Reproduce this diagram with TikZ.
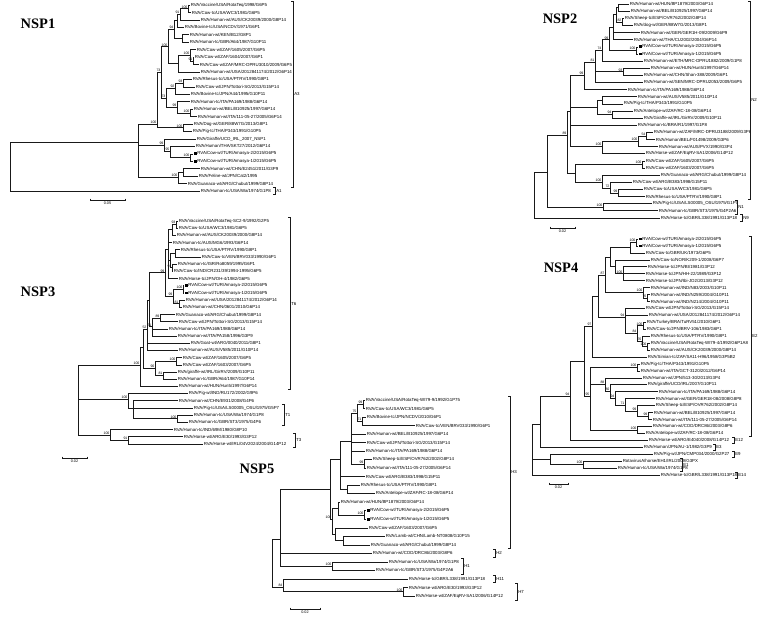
\documentclass[tikz,border=0pt]{standalone}
\usepackage{fontspec}
\setmainfont{Liberation Sans}
\newfontfamily\ttlfont{Liberation Serif}
\usetikzlibrary{calc}
\tikzset{
 edge/.style={draw=black!90, line width=0.55bp},
 lab/.style={anchor=west, inner sep=0.6bp, font=\fontsize{4.4}{5}\selectfont, text=black},
 bs/.style={anchor=south east, inner sep=0.4bp, font=\fontsize{3.5}{4}\selectfont, text=black},
 glab/.style={anchor=west, inner sep=0.3bp, font=\fontsize{4.4}{5}\selectfont},
 sclab/.style={anchor=north, inner sep=0.3bp, font=\fontsize{3.8}{4}\selectfont},
 ttl/.style={font=\ttlfont\bfseries\fontsize{14.5}{16}\selectfont, inner sep=0},
 sq/.style={fill=black, minimum size=2.6bp, inner sep=0, draw=none},
}
\def\rb{0}\def\rs{1}
\newcommand\lf[4]{\coordinate (#1) at (#2,{\rb+\rs*(#3-1)}); \node[lab] (#1-t) at (#1) {#4};}
\newcommand\mlf[4]{\coordinate (#1) at (#2,{\rb+\rs*(#3-1)}); \node[sq] (#1-s) at ($(#1)+(2.2,0)$) {}; \node[lab] (#1-t) at ($(#1)+(3.6,0)$) {#4};}
\newcommand\nd[4]{\coordinate (#1) at (#2,{\rb+\rs*(#3-1)}); \ifx\relax#4\relax\else\node[bs] (#1-b) at (#1) {#4};\fi}
\newcommand\br[2]{\foreach \cc in {#2}{\draw[edge] (#1) |- (\cc);}}
\newcommand\bk[5]{%
 \coordinate (#1t) at (#2,{\rb+\rs*(#3-1.45)});
 \coordinate (#1b) at (#2,{\rb+\rs*(#4-0.55)});
 \draw[edge] ($(#1t)+(-1.8,0)$) -- (#1t) -- (#1b) -- ($(#1b)+(-1.8,0)$);
 \node[glab] (#1) at ($(#1t)!0.5!(#1b)+(0.8,0)$) {#5};}
\newcommand\sbar[5]{\draw[edge] (#2,#4-1.3) -- (#2,#4+1.3) (#2,#4) -- (#3,#4) (#3,#4-1.3) -- (#3,#4+1.3);
 \node[sclab] (#1) at ({(#2+#3)/2},#4+1.6) {#5};}
\begin{document}
\begin{tikzpicture}[x=1bp,y=-1bp]
\fill[white] (0,0) rectangle (760,617);
\useasboundingbox (0,0) rectangle (760,617);
% ================= NSP1
\node[ttl] (t1) at (38,24) {NSP1};
\def\rb{5}\def\rs{7.44}
\lf{a1}{190}{1}{RVA/Vaccine/USA/RotaTeq/1998/G6P5}
\lf{a2}{191}{2}{RVA/Cow-tc/USA/WC3/1981/G6P5}
\lf{a3}{200}{3}{RVA/Human-wt/AUS/CK20039/2000/G8P14}
\lf{a4}{184}{4}{RVA/Bovine-tc/USA/NCDV/1971/G6P1}
\lf{a5}{189}{5}{RVA/Human-wt/KEN/B12/G8P1}
\lf{a6}{189}{6}{RVA/Human-tc/GBR/A64/1987/G10P11}
\lf{a7}{196}{7}{RVA/Cow-wt/ZAF/1605/2007/G6P5}
\lf{a8}{194}{8}{RVA/Cow-wt/ZAF/1604/2007/G6P1}
\lf{a9}{199}{9}{RVA/Cow-wt/ZAF/MRC-DPRU3010/2009/G6P5}
\lf{a10}{200}{10}{RVA/Human-wt/USA/2012841174/2012/G6P14}
\lf{a11}{192}{11}{RVA/Rhesus-tc/USA/PTRV/1990/G8P1}
\lf{a12}{195}{12}{RVA/Cow-wt/JPN/Tottori-SG/2013/G15P14}
\lf{a13}{190}{13}{RVA/Bovine-tc/JPN/A44/1995/G10P11}
\lf{a14}{190}{14}{RVA/Human-tc/ITA/PA169/1988/G6P14}
\lf{a15}{193}{15}{RVA/Human-wt/BEL/B10925/1997/G6P14}
\lf{a16}{197}{16}{RVA/Human-wt/ITA/111-05-27/2005/G6P14}
\lf{a17}{193}{17}{RVA/Dog-wt/GER/88W7G/2013/G8P1}
\lf{a18}{192}{18}{RVA/Pig-tc/THA/P343/1991/G10P5}
\lf{a19}{196}{19}{RVA/Giraffe/UCD\_IRL\_2007\_NSP1}
\lf{a20}{195}{20}{RVA/Human/THA/SKT27/2012/G6P14}
\mlf{a21}{193}{21}{RVA/Cow-wt/TUR/Amasya-2/2015/G6P5}
\mlf{a22}{193}{22}{RVA/Cow-wt/TUR/Amasya-1/2015/G6P5}
\lf{a23}{200}{23}{RVA/Human-wt/CHN/E2451/2011/G3P9}
\lf{a24}{198}{24}{RVA/Feline-wt/JPN/Cat2/1995}
\lf{a25}{187}{25}{RVA/Guanaco-wt/ARG/Chubut/1999/G8P14}
\lf{a26}{200}{26}{RVA/Human-tc/USA/Wa/1974/G1P8}
\nd{aU1}{188}{1.5}{100} \br{aU1}{a1,a2}
\nd{aU2}{180}{2.2}{91} \br{aU2}{aU1,a3}
\nd{aU3}{177}{3.0}{} \br{aU3}{aU2,a4}
\nd{aU4}{182}{5.5}{} \br{aU4}{a5,a6}
\nd{aU5}{174}{4.3}{94} \br{aU5}{aU3,aU4}
\nd{aU6}{193}{8.5}{91} \br{aU6}{a8,a9}
\nd{aU7}{190}{7.8}{100} \br{aU7}{a7,aU6}
\nd{aU8}{178}{8.8}{} \br{aU8}{aU7,a10}
\nd{aU9}{168}{6.6}{100} \br{aU9}{aU5,aU8}
\nd{aV1}{183}{11.5}{93} \br{aV1}{a11,a12}
\nd{aV2}{175}{12.2}{92} \br{aV2}{aV1,a13}
\nd{aV3}{190}{15.5}{100} \br{aV3}{a15,a16}
\nd{aV4}{177}{14.7}{99} \br{aV4}{a14,aV3}
\nd{aV5}{166}{13.5}{73} \br{aV5}{aV2,aV4}
\nd{aW}{161}{10}{73} \br{aW}{aU9,aV5}
\nd{aC}{183}{17.5}{100} \br{aC}{a17,a18}
\nd{aP}{157}{17}{100} \br{aP}{aW,aC}
\nd{aP2c}{190}{21.5}{100} \br{aP2c}{a21,a22}
\nd{aP2b}{170}{20.7}{95} \br{aP2b}{a20,aP2c}
\nd{aP2a}{164}{19.8}{99} \br{aP2a}{a19,aP2b}
\nd{aQ1}{183}{23.5}{} \br{aQ1}{a23,a24}
\nd{aQ}{178}{24.2}{100} \br{aQ}{aQ1,a25}
\nd{aM}{138}{19.4}{} \br{aM}{aP,aP2a,aQ}
\nd{aR}{10}{22.5}{} \br{aR}{aM,a26}
\bk{aA3}{293}{1}{25}{A3}
\bk{aA1}{275}{26}{26}{A1}
\sbar{as}{90}{125}{200}{0.05}
% ================= NSP2
\node[ttl] (t2) at (560,19) {NSP2};
\def\rb{4}\def\rs{7.13}
\lf{b1}{629}{1}{RVA/Human-wt/HUN/BP1879/2003/G6P14}
\lf{b2}{630}{2}{RVA/Human-wt/BEL/B10925/1997/G6P14}
\lf{b3}{624}{3}{RVA/Sheep-tc/ESP/OVR762/2002/G8P14}
\lf{b4}{633}{4}{RVA/dog-wt/GER/88W7G/2013/G8P1}
\lf{b5}{640}{5}{RVA/Human-wt/GER/GER1H-09/2009/G6P9}
\lf{b6}{633}{6}{RVA/Human-wt/THA/CU2002/2004/G6P14}
\mlf{b7}{638}{7}{RVA/Cow-wt/TUR/Amasya-2/2015/G6P5}
\mlf{b8}{638}{8}{RVA/Cow-wt/TUR/Amasya-1/2015/G6P5}
\lf{b9}{643}{9}{RVA/Human-wt/ETH/MRC-DPRU1882/2009/G1P8}
\lf{b10}{650}{10}{RVA/Human-wt/HUN/Hun5/1997/G6P14}
\lf{b11}{643}{11}{RVA/Human-wt/CHN/Shan-388/2009/G6P1}
\lf{b12}{643}{12}{RVA/Human-wt/SEN/MRC-DPRU2053/2009/G6P5}
\lf{b13}{627}{13}{RVA/Human-tc/ITA/PA169/1988/G6P14}
\lf{b14}{637}{14}{RVA/Human-wt/AUS/V585/2011/G10P14}
\lf{b15}{623}{15}{RVA/Pig-tc/THA/P343/1991/G10P5}
\lf{b16}{633}{16}{RVA/Antelope-wt/ZAF/RC-18-08/G6P14}
\lf{b17}{643}{17}{RVA/Giraffe-wt/IRL/GirRV/2009/G10P11}
\lf{b18}{637}{18}{RVA/Human-tc/BRA/R1/1997/G1P8}
\lf{b19}{653}{19}{RVA/Human-wt/ZAF/MRC-DPRU3188/2009/G3P6}
\lf{b20}{655}{20}{RVA/Human/BEL/F01498/2009/G3P6}
\lf{b21}{658}{21}{RVA/Human-wt/AUS/PVX/1990/G3P4}
\lf{b22}{645}{22}{RVA/Horse-wt/ZAF/EqRV-SA1/2006/G14P12}
\lf{b23}{645}{23}{RVA/Cow-wt/ZAF/1605/2007/G6P5}
\lf{b24}{645}{24}{RVA/Cow-wt/ZAF/1603/2007/G6P5}
\lf{b25}{660}{25}{RVA/Guanaco-wt/ARG/Chubut/1999/G8P14}
\lf{b26}{632}{26}{RVA/Cow-wt/ARG/B383/1998/G15P11}
\lf{b27}{643}{27}{RVA/Cow-tc/USA/WC3/1981/G6P5}
\lf{b28}{645}{28}{RVA/Rhesus-tc/USA/PTRV/1990/G8P1}
\lf{b29}{652}{29}{RVA/Pig-tc/USA/LS00005\_OSU/1975/G1P7}
\lf{b30}{658}{30}{RVA/Human-tc/GBR/ST3/1975/G4P2A6}
\lf{b31}{660}{31}{RVA/Horse-tc/GBR/L338/1991/G13P18}
\nd{bc12}{618}{1.5}{} \br{bc12}{b1,b2}
\nd{bc34}{622}{3.5}{82} \br{bc34}{b3,b4}
\nd{bc14}{616}{2.5}{} \br{bc14}{bc12,bc34}
\nd{bc56}{613}{4.3}{} \br{bc56}{bc14,b5,b6}
\nd{bcAm}{636}{7.5}{100} \br{bcAm}{b7,b8}
\nd{bcAm2}{609}{6.0}{99} \br{bcAm2}{bc56,bcAm}
\nd{bc9}{602}{7.5}{74} \br{bc9}{bcAm2,b9}
\nd{bc1011}{623}{10.5}{93} \br{bc1011}{b10,b11}
\nd{bc81}{595}{9.2}{81} \br{bc81}{bc9,bc1011,b12}
\nd{bT1}{584}{11}{99} \br{bT1}{bc81,b13}
\nd{bc1415}{602}{14.5}{} \br{bc1415}{b14,b15}
\nd{bc1617}{612}{16.5}{94} \br{bc1617}{b16,b17}
\nd{bc1417}{597}{15.5}{} \br{bc1417}{bc1415,bc1617}
\nd{bG1}{646}{19.5}{54} \br{bG1}{b19,b20}
\nd{bG2}{638}{20.2}{100} \br{bG2}{bG1,b21}
\nd{bG3}{602}{21}{100} \br{bG3}{bG2,b22}
\nd{bUp}{570}{16}{} \br{bUp}{bT1,bc1417,b18,bG3}
\nd{bc2324}{642}{23.5}{100} \br{bc2324}{b23,b24}
\nd{bc2728}{618}{27.5}{99} \br{bc2728}{b27,b28}
\nd{bc2628}{610}{26.8}{72} \br{bc2628}{b26,bc2728}
\nd{bc2528}{602}{26}{100} \br{bc2528}{b25,bc2628}
\nd{bLow}{575}{24.8}{} \br{bLow}{bc2324,bc2528}
\nd{bB}{567}{19.4}{89} \br{bB}{bUp,bLow}
\nd{bN1}{603}{29.5}{100} \br{bN1}{b29,b30}
\nd{bA}{547}{24.6}{} \br{bA}{bB,bN1}
\nd{bR}{534}{28}{} \br{bR}{bA,b31}
\bk{bN2b}{750}{1}{28}{N2}
\bk{bN1b}{737}{29}{30}{N1}
\bk{bN9b}{742}{31}{31}{N9}
\sbar{bs}{550}{575}{228}{0.02}
% ================= NSP3
\node[ttl] (t3) at (38,292) {NSP3};
\def\rb{221}\def\rs{7.19}
\lf{c1}{178}{1}{RVA/Vaccine/USA/RotaTeq-SC2-9/1992/G2P5}
\lf{c2}{178}{2}{RVA/Cow-tc/USA/WC3/1981/G6P5}
\lf{c3}{176}{3}{RVA/Human-wt/AUS/CK20039/2000/G8P14}
\lf{c4}{172}{4}{RVA/Human-tc/AUS/MG6/1993/G6P14}
\lf{c5}{180}{5}{RVA/Rhesus-tc/USA/PTRV/1990/G8P1}
\lf{c6}{201}{6}{RVA/Cow-tc/VEN/BRV033/1990/G6P1}
\lf{c7}{177}{7}{RVA/Human-tc/ISR/Ro8059/1995/G6P1}
\lf{c8}{173}{8}{RVA/Cow-tc/IND/CR231/39/1994-1995/G6P5}
\lf{c9}{178}{9}{RVA/Horse-tc/JPN/OH-4/1982/G6P5}
\mlf{c10}{184}{10}{RVA/Cow-wt/TUR/Amasya-2/2015/G6P5}
\mlf{c11}{184}{11}{RVA/Cow-wt/TUR/Amasya-1/2015/G6P5}
\lf{c12}{185}{12}{RVA/Human-wt/USA/2012841174/2012/G6P14}
\lf{c13}{182}{13}{RVA/Human-wt/CHN/0601/2010/G6P14}
\lf{c14}{175}{14}{RVA/Guanaco-wt/ARG/Chubut/1999/G8P14}
\lf{c15}{178}{15}{RVA/Cow-wt/JPN/Tottori-SG/2013/G15P14}
\lf{c16}{168}{16}{RVA/Human-tc/ITA/PA169/1988/G6P14}
\lf{c17}{177}{17}{RVA/Human-wt/ITA/PA158/1996/G3P9}
\lf{c18}{190}{18}{RVA/Goat-wt/ARG/0040/2011/G8P1}
\lf{c19}{178}{19}{RVA/Human-wt/AUS/V585/2011/G10P14}
\lf{c20}{182}{20}{RVA/Cow-wt/ZAF/1605/2007/G6P5}
\lf{c21}{182}{21}{RVA/Cow-wt/ZAF/1603/2007/G6P5}
\lf{c22}{177}{22}{RVA/giraffe-wt/IRL/GirRV/2009/G10P11}
\lf{c23}{177}{23}{RVA/Human-tc/GBR/A64/1987/G10P14}
\lf{c24}{178}{24}{RVA/Human-wt/HUN/Hun5/1997/G6P14}
\lf{c25}{188}{25}{RVA/Pig-wt/IND/RU172/2002/G9P6}
\lf{c26}{178}{26}{RVA/Human-wt/CHN/E931/2008/G4P6}
\lf{c27}{193}{27}{RVA/Pig-tc/USA/LS00005\_OSU/1975/G5P7}
\lf{c28}{193}{28}{RVA/Human-tc/USA/Wa/1974/G1P8}
\lf{c29}{188}{29}{RVA/Human-tc/GBR/ST3/1975/G4P6}
\lf{c30}{173}{30}{RVA/Human-tc/IND/69M/1980/G8P10}
\lf{c31}{183}{31}{RVA/Horse-wt/ARG/E30/1993/G3P12}
\lf{c32}{203}{32}{RVA/Horse-wt/IRL/04V2024/2004/G14P12}
\nd{cn12}{176}{1.5}{93} \br{cn12}{c1,c2}
\nd{cna}{172}{2.2}{} \br{cna}{cn12,c3}
\nd{cnb}{175}{5.5}{} \br{cnb}{c5,c6}
\nd{cn78}{172}{7.5}{91} \br{cn78}{c7,c8}
\nd{cnc}{170}{6.5}{} \br{cnc}{cnb,cn78}
\nd{cnd}{168}{5}{} \br{cnd}{cna,c4,cnc,c9}
\nd{cn1011}{183}{10.5}{100} \br{cn1011}{c10,c11}
\nd{cn1213}{179}{12.5}{81} \br{cn1213}{c12,c13}
\nd{cne}{173}{11.5}{99} \br{cne}{cn1011,cn1213}
\nd{cnf}{165}{8.2}{99} \br{cnf}{cnd,cne}
\nd{cn1415}{160}{14.5}{89} \br{cn1415}{c14,c15}
\nd{cng}{152}{15.7}{71} \br{cng}{cn1415,c16,c17}
\nd{cnh}{149}{12}{} \br{cnh}{cnf,cng}
\nd{cni}{147}{16}{52} \br{cni}{cnh,c18,c19}
\nd{cnZ}{176}{20.5}{100} \br{cnZ}{c20,c21}
\nd{cnG}{163}{22.5}{81} \br{cnG}{c22,c23}
\nd{cnj}{155}{21.5}{90} \br{cnj}{cnZ,cnG}
\nd{cnk}{143}{18.5}{} \br{cnk}{cni,cnj}
\nd{cT6}{140}{21}{100} \br{cT6}{cnk,c24}
\nd{cnW}{177}{28.5}{100} \br{cnW}{c28,c29}
\nd{cnT1}{133}{27}{} \br{cnT1}{c26,c27,cnW}
\nd{cnT}{128}{25.8}{100} \br{cnT}{c25,cnT1}
\nd{cnH}{128}{31.5}{91} \br{cnH}{c31,c32}
\nd{cnO}{110}{30.8}{100} \br{cnO}{c30,cnH}
\nd{cR}{78}{26}{} \br{cR}{cT6,cnT,cnO}
\bk{cT6b}{290}{1}{24}{T6}
\bk{cT1b}{284}{27}{29}{T1}
\bk{cT3b}{295}{31}{32}{T3}
\sbar{cs}{62}{87}{458}{0.02}
% ================= NSP4
\node[ttl] (t4) at (561,268) {NSP4};
\def\rb{239}\def\rs{6.94}
\mlf{d1}{638}{1}{RVA/Cow-wt/TUR/Amasya-2/2015/G6P5}
\mlf{d2}{638}{2}{RVA/Cow-wt/TUR/Amasya-1/2015/G6P5}
\lf{d3}{645}{3}{RVA/Cow-tc/GBR/UK/1973/G6P5}
\lf{d4}{650}{4}{RVA/Cow-tc/NOR/K209-1/2008/G6P7}
\lf{d5}{647}{5}{RVA/Horse-tc/JPN/BI/1981/G3P12}
\lf{d6}{645}{6}{RVA/Horse-tc/JPN/HH-22/1989/G3P12}
\lf{d7}{645}{7}{RVA/Horse-tc/JPN/Ibi-JO2/2013/G3P12}
\lf{d8}{650}{8}{RVA/Human-wt/IND/N83/2003/G10P11}
\lf{d9}{650}{9}{RVA/Human-wt/IND/N259/2004/G10P11}
\lf{d10}{650}{10}{RVA/Human-wt/IND/N214/2004/G10P11}
\lf{d11}{645}{11}{RVA/Cow-wt/JPN/Tottori-SG/2013/G15P14}
\lf{d12}{648}{12}{RVA/Human-wt/USA/2012841174/2012/G6P14}
\lf{d13}{646}{13}{RVA/Turkey/BRA/TuRV51/2010/G6P1}
\lf{d14}{646}{14}{RVA/Cow-tc/JPN/BRV-106/1983/G6P1}
\lf{d15}{650}{15}{RVA/Rhesus-tc/USA/PTRV/1990/G8P1}
\lf{d16}{650}{16}{RVA/Vaccine/USA/RotaTeq-WI79-4/1992/G6P1A8}
\lf{d17}{650}{17}{RVA/Human-wt/AUS/CK20039/2000/G8P14}
\lf{d18}{647}{18}{RVA/Simian-tc/ZAF/SA11-H96/1958/G3P5B2}
\lf{d19}{640}{19}{RVA/Pig-tc/THA/P343/1991/G10P5}
\lf{d20}{640}{20}{RVA/Human-wt/ITA/GCT-3120/2012/G6P14}
\lf{d21}{642}{21}{RVA/Human-wt/JPN/513-30/2013/G3P4}
\lf{d22}{647}{22}{RVA/giraffe/UCD/IRL/2007/G10P11}
\lf{d23}{658}{23}{RVA/Human-tc/ITA/PA169/1988/G6P14}
\lf{d24}{655}{24}{RVA/Human-wt/GER/GER18-08/2008/G8P8}
\lf{d25}{655}{25}{RVA/Sheep-tc/ESP/OVR762/2002/G8P14}
\lf{d26}{653}{26}{RVA/Human-wt/BEL/B10925/1997/G6P14}
\lf{d27}{652}{27}{RVA/Human-wt/ITA/111-05-27/2005/G6P14}
\lf{d28}{652}{28}{RVA/Human-wt/COD/DRC86/2003/G8P6}
\lf{d29}{645}{29}{RVA/Antelope-wt/ZAF/RC-18-08/G6P14}
\lf{d30}{648}{30}{RVA/Horse-wt/ARG/E4040/2008/G14P12}
\lf{d31}{643}{31}{RVA/Human/JPN/AU-1/1982/G3P9}
\lf{d32}{653}{32}{RVA/Pig-wt/JPN/CMP034/2000/G2P27}
\lf{d33}{622}{33}{RotavirusA/horse/EH1/IRL/2009/G3PX}
\lf{d34}{617}{34}{RVA/Human-tc/USA/Wa/1974/G1P8}
\lf{d35}{660}{35}{RVA/Horse-tc/GBR/L338/1991/G13P18}
\nd{da1}{636}{1.5}{100} \br{da1}{d1,d2}
\nd{da2}{630}{2.2}{} \br{da2}{da1,d3}
\nd{da3}{623}{6}{100} \br{da3}{d5,d6,d7}
\nd{da4}{615}{5}{} \br{da4}{d4,da3}
\nd{da5}{610}{3.6}{} \br{da5}{da2,da4}
\nd{db1}{647}{9.5}{76} \br{db1}{d9,d10}
\nd{db2}{643}{8.7}{100} \br{db2}{d8,db1}
\nd{db3}{605}{6.2}{87} \br{db3}{da5,db2}
\nd{dc1}{643}{13.5}{100} \br{dc1}{d13,d14}
\nd{dc2}{647}{16.5}{100} \br{dc2}{d16,d17}
\nd{dc3}{642}{15.7}{76} \br{dc3}{d15,dc2}
\nd{dc4}{637}{14.6}{84} \br{dc4}{dc1,dc3}
\nd{dc5}{625}{12.3}{94} \br{dc5}{d11,d12,dc4}
\nd{dc6}{598}{9.2}{} \br{dc6}{db3,dc5}
\nd{dc7}{592}{13.6}{97} \br{dc7}{dc6,d18}
\nd{dd1}{637}{19.5}{100} \br{dd1}{d19,d20}
\nd{dd2}{648}{26.5}{99} \br{dd2}{d26,d27}
\nd{dd3}{637}{25.8}{99} \br{dd3}{d25,dd2}
\nd{dd4}{625}{24.9}{71} \br{dd4}{d24,dd3}
\nd{dd5}{615}{23.9}{94} \br{dd5}{d23,dd4}
\nd{dd6}{610}{22.9}{80} \br{dd6}{d22,dd5}
\nd{dd7}{605}{21.9}{88} \br{dd7}{d21,dd6}
\nd{dd8}{637}{28.5}{100} \br{dd8}{d28,d29}
\nd{dd9}{590}{23.6}{95} \br{dd9}{dd1,dd7,dd8}
\nd{dE2}{584}{18.6}{} \br{dE2}{dc7,dd9}
\nd{dF}{570}{23.6}{94} \br{dF}{dE2,d30}
\nd{dE1}{583}{33.5}{100} \br{dE1}{d33,d34}
\nd{dH}{550}{32.7}{} \br{dH}{d32,dE1}
\nd{dG}{540}{27.7}{} \br{dG}{dF,d31}
\nd{dR}{532}{31.8}{} \br{dR}{dG,dH,d35}
\bk{dE2b}{751}{1}{29}{E2}
\bk{dE12}{734}{30}{30}{E12}
\bk{dE3}{715}{31}{31}{E3}
\bk{dE9}{734}{32}{32}{E9}
\bk{dE1b}{682}{33}{34}{E1}
\bk{dE14}{737}{35}{35}{E14}
\sbar{ds}{549}{568}{484}{0.02}
% ================= NSP5
\node[ttl] (t5) at (257,469) {NSP5};
\def\rb{400}\def\rs{8.52}
\lf{e1}{365}{1}{RVA/Vaccine/USA/RotaTeq-WI79-9/1992/G1P75}
\lf{e2}{365}{2}{RVA/Cow-tc/USA/WC3/1981/G6P5}
\lf{e3}{366}{3}{RVA/Bovine-tc/JPN/NCDV/2010/G6P1}
\lf{e4}{415}{4}{RVA/Cow-tc/VEN/BRV033/1990/G6P1}
\lf{e5}{366}{5}{RVA/Human-wt/BEL/B10925/1997/G6P14}
\lf{e6}{366}{6}{RVA/Cow-wt/JPN/Tottori-SG/2013/G15P14}
\lf{e7}{365}{7}{RVA/Human-tc/ITA/PA169/1988/G6P14}
\lf{e8}{372}{8}{RVA/Sheep-tc/ESP/OVR762/2002/G8P14}
\lf{e9}{366}{9}{RVA/Human-wt/ITA/111-05-27/2005/G6P14}
\lf{e10}{365}{10}{RVA/Cow-wt/ARG/B383/1998/G15P11}
\lf{e11}{360}{11}{RVA/Rhesus-tc/USA/PTRV/1990/G8P1}
\lf{e12}{375}{12}{RVA/Antelope-wt/ZAF/RC-18-08/G6P14}
\lf{e13}{340}{13}{RVA/Human-wt/HUN/BP1879/2003/G6P14}
\mlf{e14}{366}{14}{RVA/Cow-wt/TUR/Amasya-2/2015/G6P5}
\mlf{e15}{366}{15}{RVA/Cow-wt/TUR/Amasya-1/2015/G6P5}
\lf{e16}{368}{16}{RVA/Cow-wt/ZAF/1603/2007/G6P5}
\lf{e17}{385}{17}{RVA/Lamb-wt/CHN/Lamb-NT0808/G10P15}
\lf{e18}{370}{18}{RVA/Guanaco-wt/ARG/Chubut/1999/G8P14}
\lf{e19}{372}{19}{RVA/Human-wt/COD/DRC86/2003/G8P6}
\lf{e20}{388}{20}{RVA/Human-tc/USA/Wa/1974/G1P8}
\lf{e21}{375}{21}{RVA/Human-tc/GBR/ST3/1975/G4P2A6}
\lf{e22}{408}{22}{RVA/Horse-tc/GBR/L338/1991/G13P18}
\lf{e23}{408}{23}{RVA/Horse-wt/ARG/E30/1993/G3P12}
\lf{e24}{415}{24}{RVA/Horse-wt/ZAF/EqRV-SA1/2006/G14P12}
\nd{ee12}{363}{1.5}{99} \br{ee12}{e1,e2}
\nd{ee34}{362}{3.5}{71} \br{ee34}{e3,e4}
\nd{ee14}{357}{2.5}{75} \br{ee14}{ee12,ee34}
\nd{ee89}{364}{8.5}{99} \br{ee89}{e8,e9}
\nd{eeA}{351}{5.8}{} \br{eeA}{ee14,e5,e6,e7,ee89}
\nd{ee1112}{347}{11.5}{} \br{ee1112}{e11,e12}
\nd{eeB}{340}{8}{} \br{eeB}{eeA,e10,ee1112}
\nd{ee1415}{364}{14.5}{100} \br{ee1415}{e14,e15}
\nd{eeC}{338}{13.7}{} \br{eeC}{e13,ee1415}
\nd{ee1718}{343}{17.5}{} \br{ee1718}{e17,e18}
\nd{eeD}{335}{16.8}{} \br{eeD}{e16,ee1718}
\nd{eeE}{332}{15}{100} \br{eeE}{eeC,eeD}
\nd{eH3}{330}{11.5}{} \br{eH3}{eeB,eeE}
\nd{eH1}{332}{20.5}{100} \br{eH1}{e20,e21}
\nd{eNx}{280}{17.3}{} \br{eNx}{eH3,e19,eH1}
\nd{eH7}{403}{23.5}{100} \br{eH7}{e23,e24}
\nd{eH11}{283}{23}{84} \br{eH11}{e22,eH7}
\nd{eR}{272}{20}{} \br{eR}{eNx,eH11}
\bk{eH3b}{510}{1}{18}{H3}
\bk{eH2b}{495}{19}{19}{H2}
\bk{eH1b}{463}{20}{21}{H1}
\bk{eH11b}{495}{22}{22}{H11}
\bk{eH7b}{517}{23}{24}{H7}
\sbar{es}{290}{320}{609}{0.02}
\end{tikzpicture}
\end{document}
